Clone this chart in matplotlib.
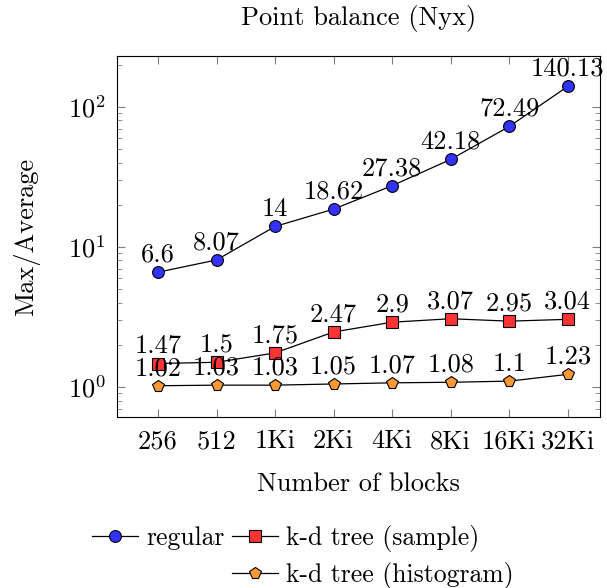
import matplotlib
matplotlib.use("Agg")
import matplotlib.pyplot as plt
from matplotlib.ticker import LogLocator, NullFormatter
from matplotlib.lines import Line2D

plt.rcParams['font.family'] = 'serif'
plt.rcParams['font.serif'] = ['cmr10']
plt.rcParams['mathtext.fontset'] = 'cm'
plt.rcParams['axes.formatter.use_mathtext'] = True

categories = ["256", "512", "1Ki", "2Ki", "4Ki", "8Ki", "16Ki", "32Ki"]
regular = [6.6, 8.07, 14, 18.62, 27.38, 42.18, 72.49, 140.13]
kd_sample = [1.47, 1.5, 1.75, 2.47, 2.9, 3.07, 2.95, 3.04]
kd_hist = [1.02, 1.03, 1.03, 1.05, 1.07, 1.08, 1.1, 1.23]
labels_regular = ["6.6", "8.07", "14", "18.62", "27.38", "42.18", "72.49", "140.13"]
labels_sample = ["1.47", "1.5", "1.75", "2.47", "2.9", "3.07", "2.95", "3.04"]
labels_hist = ["1.02", "1.03", "1.03", "1.05", "1.07", "1.08", "1.1", "1.23"]

FS = 19
fig = plt.figure(figsize=(6.07, 5.88), dpi=100)
ax = fig.add_axes([117/607, 1-417/588, (600-117)/607, (417-56)/588])

x = list(range(len(categories)))
series = [
    (regular, labels_regular, 'o', '#3333ff', 8.5, "regular"),
    (kd_sample, labels_sample, 's', '#ff3333', 8, "k-d tree (sample)"),
    (kd_hist, labels_hist, 'p', '#ff9933', 8.5, "k-d tree (histogram)"),
]
handles = []
for vals, labs, m, c, ms, name in series:
    h, = ax.plot(x, vals, color='black', lw=0.9, marker=m, markersize=ms,
                 markerfacecolor=c, markeredgecolor='black', markeredgewidth=0.8,
                 label=name, zorder=3)
    handles.append(h)
    for xi, v, t in zip(x, vals, labs):
        ax.annotate(t, (xi, v), xytext=(0, 4), textcoords='offset points',
                    ha='center', va='bottom', fontsize=FS, zorder=4)

ax.set_yscale('log')
ax.set_ylim(0.61, 231)
ax.set_xlim(-0.70, 7.55)
ax.set_xticks(x)
ax.set_xticklabels(categories, fontsize=FS)
ax.yaxis.set_major_locator(LogLocator(base=10, numticks=10))
ax.yaxis.set_minor_locator(LogLocator(base=10, subs=range(2, 10), numticks=20))
ax.yaxis.set_minor_formatter(NullFormatter())
ax.tick_params(axis='y', labelsize=FS, pad=8)
ax.tick_params(axis='x', pad=9)
ax.tick_params(which='both', direction='in', top=True, right=True, color='#7f7f7f')
ax.tick_params(which='major', length=6, width=0.8)
ax.tick_params(which='minor', length=3.5, width=0.6)
for s in ax.spines.values():
    s.set_linewidth(0.8)

ax.set_title("Point balance (Nyx)", fontsize=FS, pad=22)
ax.set_xlabel("Number of blocks", fontsize=FS, labelpad=14)
ax.set_ylabel("Max/Average", fontsize=FS, labelpad=20)

blank = Line2D([], [], linestyle='none', marker=None)
leg = fig.legend([handles[0], blank, handles[1], handles[2]],
                 ["regular", "", "k-d tree (sample)", "k-d tree (histogram)"],
                 ncol=2, loc='upper center', bbox_to_anchor=(303/607, 1-512/588),
                 frameon=False, fontsize=18.5, handlelength=1.8, handletextpad=0.3,
                 columnspacing=0.3, labelspacing=0.4, borderpad=0)

fig.savefig("out.png", dpi=100)
